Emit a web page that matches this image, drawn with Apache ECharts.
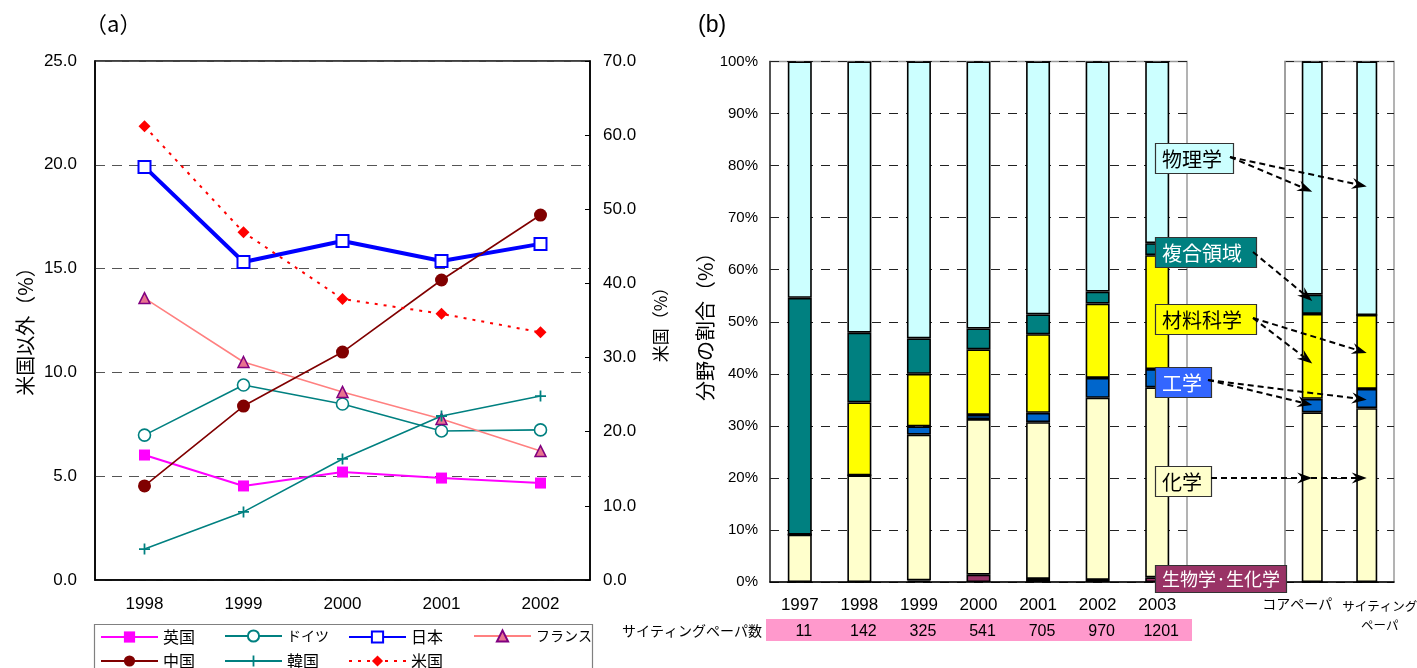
<!DOCTYPE html>
<html>
<head>
<meta charset="utf-8">
<script src="https://cdn.jsdelivr.net/npm/echarts@6/dist/echarts.min.js"></script>
<style>
  html, body { margin: 0; padding: 0; background: #fff; }
  #c { width: 1417px; height: 668px; }
</style>
</head>
<body>
<div id="c"></div>
<script>
// ---- (a) share of papers by country (%) ----
const years = ['1998', '1999', '2000', '2001', '2002'];
const uk      = [6.02, 4.53, 5.20, 4.91, 4.67];
const germany = [6.98, 9.39, 8.48, 7.18, 7.23];
const japan   = [19.90, 15.32, 16.33, 15.37, 16.19];
const france  = [13.58, 10.50, 9.06, 7.76, 6.21];
const china   = [4.53, 8.38, 10.98, 14.45, 17.58];
const korea   = [1.49, 3.28, 5.83, 7.90, 8.86];
const usa     = [61.2, 46.9, 37.9, 35.9, 33.4];   // right axis

// ---- (b) share of fields among citing papers (%) ----
const fieldYears   = ['1997', '1998', '1999', '2000', '2001', '2002', '2003'];
const citingCounts = [11, 142, 325, 541, 705, 970, 1201];
const bio  = [0, 0, 0.3, 1.4, 0.6, 0.4, 0.9];
const chem = [9.1, 20.5, 28.0, 29.9, 30.1, 35.0, 36.5];
const eng  = [0, 0, 1.6, 0.8, 1.8, 3.8, 3.5];
const mat  = [0, 14.0, 10.1, 12.6, 15.1, 14.3, 21.9];
const comp = [45.5, 13.4, 6.8, 4.0, 3.8, 2.3, 2.3];
const phys = [45.4, 52.1, 53.2, 51.3, 48.6, 44.2, 34.9];

const paperTypes = ['コアペーパ', 'サイティングペーパ'];
const bio2  = [0, 0];
const chem2 = [32.6, 33.4];
const eng2  = [2.6, 3.7];
const mat2  = [16.3, 14.2];
const comp2 = [3.7, 0];
const phys2 = [44.8, 48.7];

const fieldNames = ['生物学·生化学', '化学', '工学', '材料科学', '複合領域', '物理学'];

const LAT = '"Liberation Sans", Arial, sans-serif';
const JP = '"Noto Sans CJK JP", sans-serif';

const chart = echarts.init(document.getElementById('c'), null, { renderer: 'canvas' });

function line(name, data, extra) {
  return Object.assign({
    type: 'line', name: name, data: data,
    xAxisIndex: 0, yAxisIndex: 0,
    symbolSize: 11, silent: true,
    emphasis: { disabled: true }
  }, extra);
}

const plusPath = 'path://M4.2,0 L5.8,0 L5.8,4.2 L10,4.2 L10,5.8 L5.8,5.8 L5.8,10 L4.2,10 L4.2,5.8 L0,5.8 L0,4.2 L4.2,4.2 Z';

const lineSeries = [
  line('英国', uk, {
    symbol: 'rect', symbolSize: 11,
    itemStyle: { color: '#FF00FF' }, lineStyle: { color: '#FF00FF', width: 2 }
  }),
  line('ドイツ', germany, {
    symbol: 'circle', symbolSize: 12,
    itemStyle: { color: '#ffffff', borderColor: '#008080', borderWidth: 1.6 },
    lineStyle: { color: '#008080', width: 1.6 }
  }),
  line('日本', japan, {
    symbol: 'rect', symbolSize: 12,
    itemStyle: { color: '#ffffff', borderColor: '#0000FF', borderWidth: 2 },
    lineStyle: { color: '#0000FF', width: 4 }
  }),
  line('フランス', france, {
    symbol: 'triangle', symbolSize: 11,
    itemStyle: { color: '#E8738F', borderColor: '#800080', borderWidth: 1.5 },
    lineStyle: { color: '#FF8080', width: 1.6 }
  }),
  line('中国', china, {
    symbol: 'circle', symbolSize: 13,
    itemStyle: { color: '#800000' }, lineStyle: { color: '#800000', width: 1.6 }
  }),
  line('韓国', korea, {
    symbol: plusPath, symbolSize: 11,
    itemStyle: { color: '#008080' }, lineStyle: { color: '#008080', width: 1.6 }
  }),
  line('米国', usa, {
    yAxisIndex: 1, symbol: 'diamond', symbolSize: 12,
    itemStyle: { color: '#FF0000' },
    lineStyle: { color: '#FF0000', width: 2, type: [3, 6] }
  })
];

const fieldColors = ['#993366', '#FFFFCC', '#0066CC', '#FFFF00', '#008080', '#CCFFFF'];
const mainData = [bio, chem, eng, mat, comp, phys];
const refData = [bio2, chem2, eng2, mat2, comp2, phys2];

const barSeries = [];
fieldNames.forEach(function (n, i) {
  const style = { color: fieldColors[i], borderColor: '#000', borderWidth: 1.6 };
  barSeries.push({
    type: 'bar', name: n, data: mainData[i], stack: 'years',
    xAxisIndex: 1, yAxisIndex: 2, barWidth: 24, itemStyle: style,
    silent: true, emphasis: { disabled: true }
  });
  barSeries.push({
    type: 'bar', name: n + ' ', data: refData[i], stack: 'papers',
    xAxisIndex: 2, yAxisIndex: 3, barWidth: 21, itemStyle: style,
    silent: true, emphasis: { disabled: true }
  });
});

const dashGrey = { color: '#555', type: [10, 7], width: 1.2 };
const dashBlack = { color: '#222', type: [9, 8], width: 1 };
const tickFont = { color: '#000', fontFamily: LAT, fontSize: 17 };

// one legend block per entry, laid out in fixed columns
const legendCols = [100, 224, 348, 473];
const legendRows = [629, 653];
const legendNames = ['英国', 'ドイツ', '日本', 'フランス', '中国', '韓国', '米国'];
const legends = legendNames.map(function (n, i) {
  const kana = /[\u30A0-\u30FF]/.test(n);
  return {
    data: [n], left: legendCols[i % 4], top: legendRows[Math.floor(i / 4)],
    itemWidth: 57, itemHeight: 14, padding: 0, selectedMode: false,
    textStyle: { fontSize: kana ? 14 : 16, fontFamily: JP, color: '#000' }
  };
});

const gridBase = { show: true, outerBoundsMode: 'none', containLabel: false };

chart.setOption({
  animation: false,
  backgroundColor: '#fff',
  title: [
    { text: '（a）', left: 80, top: 8, textStyle: { fontFamily: JP, fontSize: 22, fontWeight: 'normal', color: '#000' } },
    { text: '(b)', left: 693, top: 9, textStyle: { fontFamily: LAT, fontSize: 23, fontWeight: 'normal', color: '#000' } }
  ],
  legend: legends,
  grid: [
    Object.assign({ left: 95, top: 61, width: 495, height: 519, borderColor: '#000', borderWidth: 1.5 }, gridBase),
    Object.assign({ left: 770, top: 61.5, width: 417, height: 520.5, borderColor: '#9a9a9a', borderWidth: 1.5 }, gridBase),
    Object.assign({ left: 1285, top: 61.5, width: 109, height: 520.5, borderColor: '#9a9a9a', borderWidth: 1.5 }, gridBase)
  ],
  xAxis: [
    {
      type: 'category', gridIndex: 0, data: years,
      axisLine: { lineStyle: { color: '#000', width: 1.5 } },
      axisTick: { inside: true, length: 6, lineStyle: { color: '#000' } },
      axisLabel: Object.assign({ margin: 16 }, tickFont)
    },
    {
      type: 'category', gridIndex: 1, data: fieldYears,
      axisLine: { lineStyle: { color: '#000', width: 1.5 } },
      axisTick: { inside: true, length: 5, lineStyle: { color: '#000' } },
      axisLabel: Object.assign({ margin: 15 }, tickFont)
    },
    {
      type: 'category', gridIndex: 2, data: paperTypes,
      axisLine: { lineStyle: { color: '#000', width: 1.5 } },
      axisTick: { inside: true, length: 5, lineStyle: { color: '#000' } },
      axisLabel: {
        margin: 15, interval: 0, overflow: 'none', hideOverlap: false,
        formatter: function (v, i) {
          return i === 0 ? '{a|コアペーパ}' : '{b|サイティング}\n{b|ペーパ}';
        },
        rich: {
          a: { fontFamily: JP, fontSize: 14, color: '#000', padding: [0, 30, 0, 0] },
          b: { fontFamily: JP, fontSize: 12.5, color: '#000', lineHeight: 19, padding: [0, 0, 0, 26] }
        }
      }
    },
    {
      // citing paper counts under each year
      type: 'category', gridIndex: 1, data: citingCounts.map(String),
      position: 'bottom', offset: 26, z: 10,
      axisLine: { show: false }, axisTick: { show: false },
      axisLabel: Object.assign({ margin: 16, interval: 0, padding: [0, 0, 0, 8] }, tickFont, { fontSize: 16 })
    }
  ],
  yAxis: [
    {
      type: 'value', gridIndex: 0, min: 0, max: 25, interval: 5,
      name: '米国以外（%）', nameLocation: 'middle', nameRotate: 90, nameGap: 60,
      nameTextStyle: { fontFamily: JP, fontSize: 20, color: '#000', padding: [0, 0, 0, -12] },
      axisLine: { show: true, lineStyle: { color: '#000', width: 1.5 } },
      axisTick: { show: false },
      axisLabel: Object.assign({ margin: 18, formatter: function (v) { return v.toFixed(1); } }, tickFont),
      splitLine: { show: true, lineStyle: dashGrey }
    },
    {
      type: 'value', gridIndex: 0, min: 0, max: 70, interval: 10, position: 'right',
      name: '米国（%）', nameLocation: 'middle', nameRotate: 90, nameGap: 62,
      nameTextStyle: { fontFamily: JP, fontSize: 17, color: '#000' },
      axisLine: { show: true, lineStyle: { color: '#000', width: 1.5 } },
      axisTick: { show: true, inside: true, length: 5, lineStyle: { color: '#000' } },
      axisLabel: Object.assign({ margin: 13, formatter: function (v) { return v.toFixed(1); } }, tickFont),
      splitLine: { show: false }
    },
    {
      type: 'value', gridIndex: 1, min: 0, max: 100, interval: 10,
      name: '分野の割合（%）', nameLocation: 'middle', nameRotate: 90, nameGap: 40,
      nameTextStyle: { fontFamily: JP, fontSize: 20, color: '#000' },
      axisLine: { show: true, lineStyle: { color: '#333', width: 1.5 } },
      axisTick: { show: false },
      axisLabel: Object.assign({ margin: 12, formatter: '{value}%' }, tickFont, { fontSize: 15 }),
      splitLine: { show: true, lineStyle: dashBlack }
    },
    {
      type: 'value', gridIndex: 2, min: 0, max: 100, interval: 10,
      axisLine: { show: true, lineStyle: { color: '#9a9a9a', width: 1.5 } },
      axisTick: { show: false }, axisLabel: { show: false },
      splitLine: { show: true, lineStyle: dashBlack }
    }
  ],
  series: lineSeries.concat(barSeries)
});

// ---- annotations: field labels with dashed arrows into the reference bars ----
const labelBoxes = [
  { text: '物理学',        x: 1155, y: 143, w: 78,  h: 30, fill: '#CCFFFF', color: '#000', size: 20 },
  { text: '複合領域',      x: 1155, y: 237, w: 101, h: 30, fill: '#008080', color: '#fff', size: 20 },
  { text: '材料科学',      x: 1155, y: 304, w: 101, h: 30, fill: '#FFFF00', color: '#000', size: 20 },
  { text: '工学',          x: 1155, y: 367, w: 56,  h: 30, fill: '#3366FF', color: '#fff', size: 20 },
  { text: '化学',          x: 1155, y: 466, w: 56,  h: 30, fill: '#FFFFCC', color: '#000', size: 20 },
  { text: '生物学·生化学', x: 1155, y: 565, w: 131, h: 27, fill: '#993366', color: '#fff', size: 18 }
];

// arrow start (label edge) and target [paper type, share %]
const arrows = [
  { from: [1230, 157], to: ['コアペーパ', 75] },
  { from: [1230, 157], to: ['サイティングペーパ', 76] },
  { from: [1253, 252], to: ['コアペーパ', 54] },
  { from: [1253, 318], to: ['コアペーパ', 42] },
  { from: [1253, 318], to: ['サイティングペーパ', 44] },
  { from: [1208, 380], to: ['コアペーパ', 34] },
  { from: [1208, 380], to: ['サイティングペーパ', 35] },
  { from: [1211, 478], to: ['コアペーパ', 20] },
  { from: [1211, 478], to: ['サイティングペーパ', 20] }
];

const els = [];
// count band
els.push({ type: 'rect', z: 1, shape: { x: 766, y: 619, width: 426, height: 22 }, style: { fill: '#FF99CC' } });
els.push({ type: 'text', z: 2, x: 762, y: 631,
  style: { text: 'サイティングペーパ数', align: 'right', verticalAlign: 'middle', font: '14px ' + JP, fill: '#000' } });
// legend frame
els.push({ type: 'rect', z: 1, shape: { x: 94.5, y: 624.5, width: 498, height: 60 },
  style: { fill: 'none', stroke: '#808080', lineWidth: 1.2 } });

labelBoxes.forEach(function (b) {
  els.push({ type: 'rect', z: 20, shape: { x: b.x + 0.5, y: b.y + 0.5, width: b.w, height: b.h },
    style: { fill: b.fill, stroke: '#333', lineWidth: 1.2 } });
  els.push({ type: 'text', z: 21, x: b.x + 7, y: b.y + b.h / 2 + 1,
    style: { text: b.text, align: 'left', verticalAlign: 'middle', font: b.size + 'px ' + JP, fill: b.color } });
});

arrows.forEach(function (a) {
  const p = chart.convertToPixel({ xAxisIndex: 2, yAxisIndex: 3 }, a.to);
  const x0 = a.from[0], y0 = a.from[1], x1 = p[0], y1 = p[1];
  const ang = Math.atan2(y1 - y0, x1 - x0);
  const c = Math.cos(ang), s = Math.sin(ang);
  const L = 15, W = 5.5, N = 10;
  const back = [x1 - c * L, y1 - s * L];
  const notch = [x1 - c * N, y1 - s * N];
  els.push({ type: 'line', z: 22, shape: { x1: x0, y1: y0, x2: notch[0], y2: notch[1] },
    style: { stroke: '#000', lineWidth: 2, lineDash: [6, 4] } });
  els.push({ type: 'polygon', z: 22, shape: { points: [
      [x1, y1],
      [back[0] - s * W, back[1] + c * W],
      notch,
      [back[0] + s * W, back[1] - c * W]
    ] }, style: { fill: '#000' } });
});

chart.setOption({ graphic: { elements: els } });
</script>
</body>
</html>
